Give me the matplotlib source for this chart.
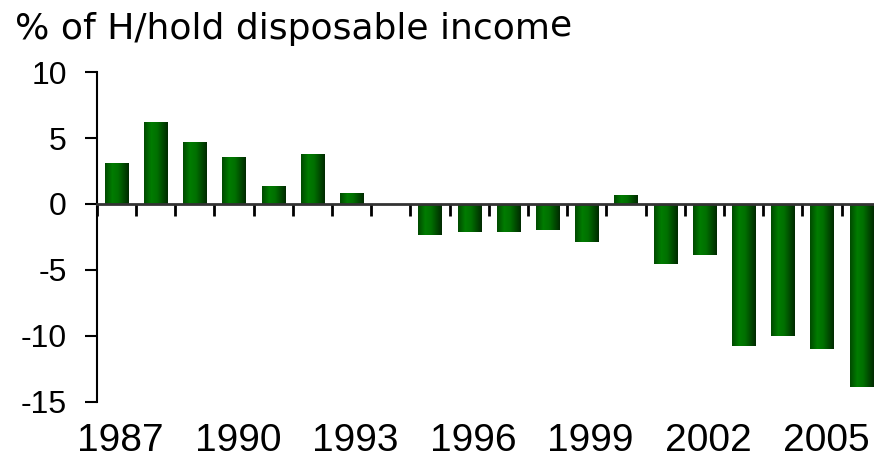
import numpy as np
import matplotlib.pyplot as plt
from matplotlib.colors import LinearSegmentedColormap

years = list(range(1987, 2007))
balance = [3.1, 6.2, 4.7, 3.6, 1.35, 3.8, 0.8, 0.0, -2.35, -2.15,
           -2.15, -1.95, -2.9, 0.65, -4.55, -3.9, -10.8, -10.0, -11.05, -13.9]
label_years = [1987, 1990, 1993, 1996, 1999, 2002, 2005]
y_ticks = [10, 5, 0, -5, -10, -15]

# left-to-right shading used on every bar
shade = LinearSegmentedColormap.from_list(
    "bar_shade",
    [(0.0, "#004a00"), (0.3, "#007c00"), (0.55, "#007000"), (1.0, "#002a00")]
)

fig = plt.figure(figsize=(8.74, 4.66), dpi=100)
ax = fig.add_axes([0.1108, 0.1384, 0.897, 0.7064])

x = np.arange(len(years))
bars = ax.bar(x, balance, width=0.59, color="#006400", zorder=2)

grad = np.linspace(0, 1, 64).reshape(1, -1)
for b in bars:
    x0, y0 = b.get_x(), b.get_y()
    im = ax.imshow(grad, cmap=shade, aspect="auto", zorder=2.5,
                   extent=(x0, x0 + b.get_width(), y0, y0 + b.get_height()))
    im.set_clip_path(b)

ax.set_xlim(-0.5, len(years) - 0.5)
ax.set_ylim(-15, 10)

for s in ["top", "right"]:
    ax.spines[s].set_visible(False)
ax.spines["bottom"].set_position(("data", 0))
ax.spines["bottom"].set_color("#333333")
ax.spines["bottom"].set_linewidth(2)
ax.spines["bottom"].set_zorder(3)
ax.spines["left"].set_linewidth(1.5)

ax.set_yticks(y_ticks)
ax.set_yticklabels([str(v) for v in y_ticks])
ax.tick_params(axis="y", direction="out", length=8.6, width=1.5, pad=13,
               labelsize=23)
for t in ax.get_yticklabels():
    t.set_fontfamily("Liberation Sans")

# year labels sit at the bottom, tick marks sit between the bars
ax.set_xticks([years.index(y) + 0.1 for y in label_years])
ax.set_xticklabels([str(y) for y in label_years])
ax.set_xticks(np.arange(-0.5, len(years)), minor=True)
ax.tick_params(axis="x", which="major", length=0, pad=158, labelsize=28)
ax.tick_params(axis="x", which="minor", direction="out", length=8.6, width=2)
for t in ax.get_xticklabels():
    t.set_fontfamily("Liberation Sans")

# title, with the last letter sitting a little high
head = fig.text(15 / 874, 1 - 12 / 466, "% of H/hold disposable incom",
                fontsize=26, family="DejaVu Sans", va="top", ha="left")
fig.canvas.draw()
bb = head.get_window_extent()
fig.text(bb.x1 / 874, (bb.y1 + 4) / 466, "e",
         fontsize=26, family="DejaVu Sans", va="top", ha="left")

fig.savefig("out.png", dpi=100)
